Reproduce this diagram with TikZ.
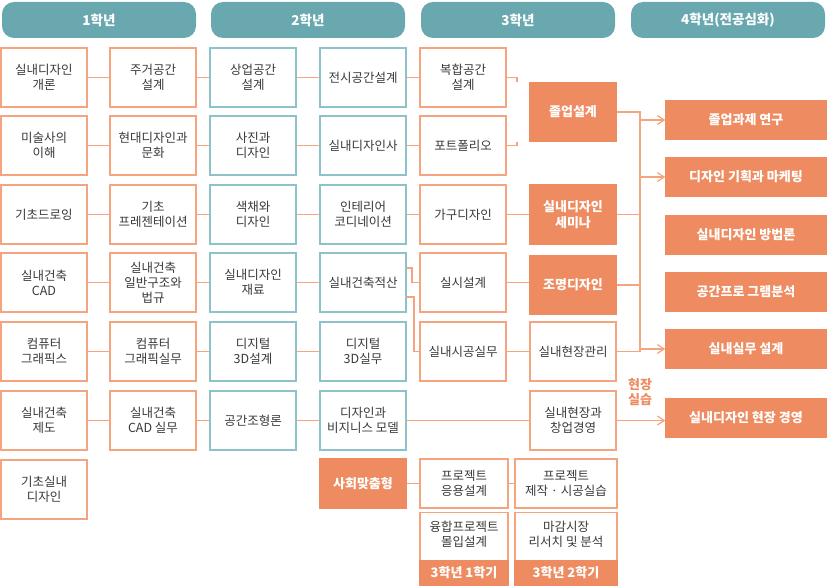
\documentclass[tikz,border=0pt]{standalone}
\usepackage{fontspec}
\setmainfont{Noto Sans CJK KR}
\usetikzlibrary{arrows,arrows.meta}
\definecolor{teal1}{HTML}{6AA8B0}
\definecolor{tealbd}{HTML}{8DC2C8}
\definecolor{orbd}{HTML}{F6A47F}
\definecolor{orfill}{HTML}{EE8B60}
\definecolor{txt}{HTML}{3A3A3A}
\begin{document}
\begin{tikzpicture}[x=1pt,y=-1pt,
	obox/.style={draw=orbd, line width=1.3pt, fill=white, minimum width=86, minimum height=59, align=center, inner sep=1pt, text=txt, font=\fontsize{12.5}{15}\selectfont},
	tbox/.style={obox, draw=tealbd},
	fbox/.style={obox, fill=orfill, draw=orfill, text=white, font=\fontsize{13}{16}\selectfont\bfseries},
	gbox/.style={fbox, minimum width=160, minimum height=38},
	head/.style={fill=teal1, rounded corners=12pt, minimum width=194, minimum height=36, text=white, font=\fontsize{13.5}{16}\selectfont\bfseries},
	link/.style={orbd, line width=1.2pt},
	arr/.style={link, -{Straight Barb[length=7pt,width=9pt]}}]
\useasboundingbox (0,0) rectangle (827,586);
% headers
\node[head] (H1) at (99,20) {1학년};
\node[head] (H2) at (308,20) {2학년};
\node[head] (H3) at (518,20) {3학년};
\node[head] (H4) at (728,20) {4학년(전공심화)};
% 1st year
\node[obox] (A1) at (44,77.5) {실내디자인\\개론};
\node[obox] (A2) at (44,145.5) {미술사의\\이해};
\node[obox] (A3) at (44,214.5) {기초드로잉};
\node[obox] (A4) at (44,282.5) {실내건축\\CAD};
\node[obox] (A5) at (44,351.5) {컴퓨터\\그래픽스};
\node[obox] (A6) at (44,420.5) {실내건축\\제도};
\node[obox] (A7) at (44,489.5) {기초실내\\디자인};
\node[obox] (B1) at (153,77.5) {주거공간\\설계};
\node[obox] (B2) at (153,145.5) {현대디자인과\\문화};
\node[obox] (B3) at (153,214.5) {기초\\프레젠테이션};
\node[obox] (B4) at (153,282.5) {실내건축\\일반구조와\\법규};
\node[obox] (B5) at (153,351.5) {컴퓨터\\그래픽실무};
\node[obox] (B6) at (153,420.5) {실내건축\\CAD 실무};
% 2nd year
\node[tbox] (C1) at (253,77.5) {상업공간\\설계};
\node[tbox] (C2) at (253,145.5) {사진과\\디자인};
\node[tbox] (C3) at (253,214.5) {색채와\\디자인};
\node[tbox] (C4) at (253,282.5) {실내디자인\\재료};
\node[tbox] (C5) at (253,351.5) {디지털\\3D설계};
\node[tbox] (C6) at (253,420.5) {공간조형론};
\node[tbox] (D1) at (363,77.5) {전시공간설계};
\node[tbox] (D2) at (363,145.5) {실내디자인사};
\node[tbox] (D3) at (363,214.5) {인테리어\\코디네이션};
\node[tbox] (D4) at (363,282.5) {실내건축적산};
\node[tbox] (D5) at (363,351.5) {디지털\\3D실무};
\node[tbox] (D6) at (363,420.5) {디자인과\\비지니스 모델};
\node[fbox, minimum height=49] (D7) at (363,483.5) {사회맞춤형};
% 3rd year
\node[obox] (E1) at (463,77.5) {복합공간\\설계};
\node[obox] (E2) at (463,145.5) {포트폴리오};
\node[obox] (E3) at (463,214.5) {가구디자인};
\node[obox] (E4) at (463,282.5) {실시설계};
\node[obox] (E5) at (463,351.5) {실내시공실무};
\node[fbox, minimum height=58] (F1) at (573,112) {졸업설계};
\node[fbox] (F2) at (573,214.5) {실내디자인\\세미나};
\node[fbox, minimum height=58] (F3) at (573,285) {조명디자인};
\node[obox] (F4) at (573,351.5) {실내현장관리};
\node[obox] (F6) at (573,420.5) {실내현장과\\창업경영};
\node[obox, minimum width=88, minimum height=49] (E7) at (464,483.5) {프로젝트\\응용설계};
\node[obox, minimum width=102, minimum height=49] (F7) at (566,483.5) {프로젝트\\제작 · 시공실습};
\node[obox, minimum width=88, minimum height=73, text depth=30] (E8) at (464,549) {융합프로젝트\\몰입설계};
\node[obox, minimum width=102, minimum height=73, text depth=30] (F8) at (566,549) {마감시장\\리서치 및 분석};
\node[fbox, minimum width=88, minimum height=24] (S1) at (464,573) {3학년 1학기};
\node[fbox, minimum width=102, minimum height=24] (S2) at (566,573) {3학년 2학기};
% 4th year
\node[gbox] (G1) at (746,120) {졸업과제 연구};
\node[gbox] (G2) at (746,177) {디자인 기획과 마케팅};
\node[gbox] (G3) at (746,235) {실내디자인 방법론};
\node[gbox] (G4) at (746,292) {공간프로 그램분석};
\node[gbox] (G5) at (746,349) {실내실무 설계};
\node[gbox] (G6) at (746,418) {실내디자인 현장 경영};
\node[text=orfill, font=\fontsize{13}{15}\selectfont\bfseries, align=center] (P) at (640,392) {현장\\실습};
% links
\foreach \r in {1,...,6} {
	\draw[link] (A\r) -- (B\r);
	\draw[link] (B\r) -- (C\r);
	\draw[link] (C\r) -- (D\r);
}
\foreach \r in {1,2,3} {
	\draw[link] (D\r) -- (E\r);
}
\draw[link] (D4.east |- 0,268) -| (412,282.5) -- (E4.west |- 0,282.5);
\draw[link] (D4.east |- 0,297) -| (414,351.5) -- (E5.west |- 0,351.5);
\draw[link] (E1.east) -| (F1.north -| 517,0);
\draw[link] (E2.east) -| (F1.south -| 517,0);
\draw[link] (E3) -- (F2);
\draw[link] (E4) -- (F3.west |- E4);
\draw[link] (E5) -- (F4);
\draw[link] (D6) -- (F6);
\draw[link] (D7) -- (E7);
\draw[link] (E7) -- (F7);
\draw[link] (F1.east) -| (640,351.5) -- (F4.east);
\draw[link] (F2.east) -- (640,214.5);
\draw[link] (F3.east) -- (640,285);
\draw[arr] (640,120) -- (G1.west);
\draw[arr] (640,177) -- (G2.west);
\draw[arr] (640,349) -- (G5.west);
\draw[arr] (F6) -- (G6.west |- F6);
\end{tikzpicture}
\end{document}
